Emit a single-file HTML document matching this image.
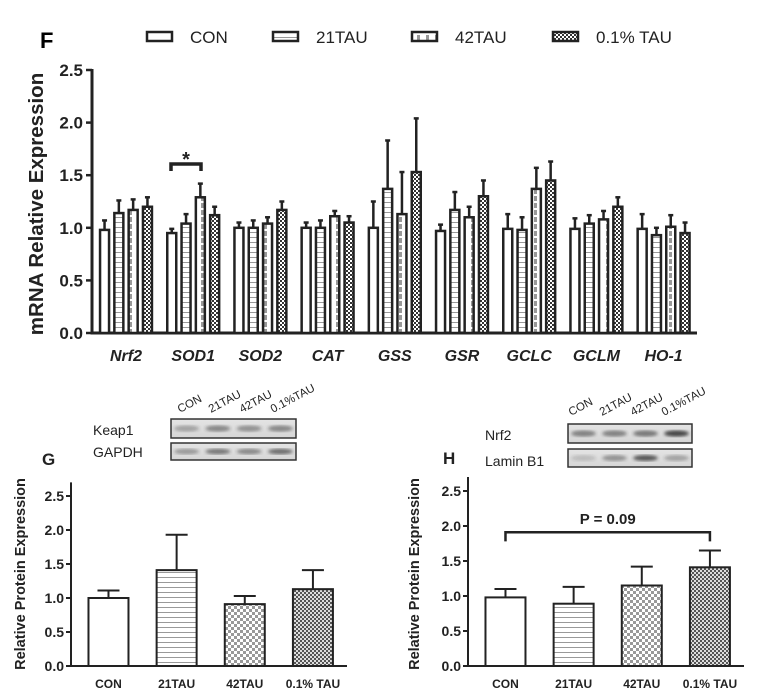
<!DOCTYPE html>
<html><head><meta charset="utf-8"><style>
html,body{margin:0;padding:0;background:#fff;}
svg{display:block;font-family:"Liberation Sans",Arial,sans-serif;}
</style></head><body>
<svg id="fig" width="782" height="693" viewBox="0 0 782 693" xmlns="http://www.w3.org/2000/svg">
<defs>
<pattern id="pH" width="6" height="5" patternUnits="userSpaceOnUse"><rect width="6" height="5" fill="#fff"/><line x1="0" y1="2.5" x2="6" y2="2.5" stroke="#999" stroke-width="1"/></pattern>
<pattern id="pV" width="9" height="7" patternUnits="userSpaceOnUse"><rect width="9" height="7" fill="#fff"/><rect x="3" y="0" width="3" height="5" fill="#999"/></pattern>
<pattern id="pC" width="4" height="4" patternUnits="userSpaceOnUse"><rect width="4" height="4" fill="#fff"/><rect width="2" height="2" fill="#333"/><rect x="2" y="2" width="2" height="2" fill="#333"/></pattern>
<pattern id="pC42" width="6" height="6" patternUnits="userSpaceOnUse"><rect width="6" height="6" fill="#fff"/><rect width="3" height="3" fill="#999"/><rect x="3" y="3" width="3" height="3" fill="#999"/></pattern>
<pattern id="pC01" width="4" height="4" patternUnits="userSpaceOnUse"><rect width="4" height="4" fill="#ddd"/><rect width="2" height="2" fill="#555"/><rect x="2" y="2" width="2" height="2" fill="#555"/></pattern>
<linearGradient id="blotBg" x1="0" x2="0" y1="0" y2="1"><stop offset="0" stop-color="#e4e4e4"/><stop offset="1" stop-color="#d6d6d6"/></linearGradient>
<filter id="blur"><feGaussianBlur stdDeviation="1.5"/></filter>
</defs>

<text x="40" y="48" font-size="22" font-weight="bold">F</text>
<g id="legend"></g>
<g id="chartF"></g>
<g id="blots"></g>
<g id="chartG"></g>
<g id="chartH"></g>
</svg>
<script>
const genes = ["Nrf2","SOD1","SOD2","CAT","GSS","GSR","GCLC","GCLM","HO-1"];
const seriesNames = ["CON","21TAU","42TAU","0.1% TAU"];
const conVals  = [0.98,0.95,1.00,1.00,1.00,0.97,0.99,0.99,0.99];
const conErr   = [1.07,0.99,1.05,1.05,1.25,1.03,1.13,1.09,1.13];
const t21Vals  = [1.14,1.04,1.00,1.00,1.37,1.17,0.98,1.04,0.93];
const t21Err   = [1.26,1.13,1.07,1.07,1.83,1.34,1.10,1.12,1.00];
const t42Vals  = [1.17,1.29,1.04,1.11,1.13,1.10,1.37,1.08,1.01];
const t42Err   = [1.27,1.42,1.10,1.16,1.53,1.20,1.57,1.16,1.12];
const t01Vals  = [1.20,1.12,1.17,1.05,1.53,1.30,1.45,1.20,0.95];
const t01Err   = [1.29,1.20,1.25,1.11,2.04,1.45,1.63,1.29,1.05];
const yTicksF  = [0,0.5,1.0,1.5,2.0,2.5];
const proteinCats = ["CON","21TAU","42TAU","0.1% TAU"];
const gVals = [1.00,1.41,0.91,1.13];
const gErr  = [1.11,1.93,1.03,1.41];
const hVals = [0.98,0.89,1.15,1.41];
const hErr  = [1.10,1.13,1.42,1.65];
const yTicksP = [0,0.5,1.0,1.5,2.0,2.5];

const NS="http://www.w3.org/2000/svg";
function mk(tag, attrs, parent){const e=document.createElementNS(NS,tag);for(const k in attrs)e.setAttribute(k,attrs[k]);parent.appendChild(e);return e;}
function fmt(v){return v.toFixed(1);}

// Legend
const leg=document.getElementById('legend');
const legFills=["#fff","url(#pH)","url(#pV)","url(#pC)"];
const legX=[147,273,412,553];
seriesNames.forEach((n,i)=>{
  const r=mk('rect',{x:legX[i],y:32,width:25,height:9,fill:legFills[i],stroke:"#222","stroke-width":2.5},leg);
  
  
  const t=mk('text',{x:legX[i]+43,y:43,"font-size":17,fill:"#222"},leg);
  t.textContent=n;
  
  
});

// Chart F
const F=document.getElementById('chartF');
const fx0=92, fy0=333, fyPer=105.2;
const yF=v=>fy0-v*fyPer;
const gx=i=>126+i*67.2;
mk('line',{x1:fx0,y1:yF(2.5)-1,x2:fx0,y2:fy0+1.5,stroke:"#222","stroke-width":3},F);
mk('line',{x1:fx0-1.5,y1:fy0,x2:697,y2:fy0,stroke:"#222","stroke-width":3},F);
yTicksF.forEach(v=>{
  mk('line',{x1:fx0-6,y1:yF(v),x2:fx0,y2:yF(v),stroke:"#222","stroke-width":2.5},F);
  const t=mk('text',{x:fx0-9,y:yF(v)+6,"font-size":17,"font-weight":"bold","text-anchor":"end",fill:"#222"},F);
  t.textContent=fmt(v);
  
  
});
const yt=mk('text',{x:0,y:0,"font-size":20.5,"font-weight":"bold","text-anchor":"middle",fill:"#222",transform:"translate(43,204) rotate(-90)"},F);
yt.textContent="mRNA Relative Expression";


const allVals=[conVals,t21Vals,t42Vals,t01Vals], allErr=[conErr,t21Err,t42Err,t01Err];
genes.forEach((g,i)=>{
  allVals.forEach((vals,j)=>{
    const cx=gx(i)+(j-1.5)*14.3;
    mk('line',{x1:cx,y1:yF(vals[i]),x2:cx,y2:yF(allErr[j][i]),stroke:"#222","stroke-width":2.5},F);
    mk('line',{x1:cx-2.5,y1:yF(allErr[j][i]),x2:cx+2.5,y2:yF(allErr[j][i]),stroke:"#222","stroke-width":2.5},F);
    const b=mk('rect',{x:cx-4.5,y:yF(vals[i]),width:9,height:fy0-yF(vals[i]),fill:legFills[j],stroke:"#222","stroke-width":2.5},F);
    
    
  });
  const t=mk('text',{x:gx(i),y:361,"font-size":16,"font-weight":"bold","font-style":"italic","text-anchor":"middle",fill:"#222"},F);
  t.textContent=g;
  
  
});
// significance bracket SOD1
mk('path',{d:"M171 171 V164 H201 V171",fill:"none",stroke:"#222","stroke-width":3.5},F);
const st=mk('text',{x:186,y:166,"font-size":20,"font-weight":"bold","text-anchor":"middle",fill:"#222"},F);
st.textContent="*";

// Blots
const B=document.getElementById('blots');
function blot(x,y,w,h,intens){
  mk('rect',{x:x,y:y,width:w,height:h,fill:"url(#blotBg)",stroke:"#333","stroke-width":1.5},B);
  intens.forEach((a,k)=>{
    const cx=x+w*(k+0.5)/4;
    mk('ellipse',{cx:cx,cy:y+h/2,rx:w/10,ry:h/6,fill:"#333","fill-opacity":a,filter:"url(#blur)"},B);
  });
}
function lbl(x,y,s,size){const t=mk('text',{x:x,y:y,"font-size":size,fill:"#222"},B);t.textContent=s;return t;}
blot(171,419,125,19,[0.35,0.5,0.45,0.5]);
blot(171,443,125,17,[0.4,0.6,0.5,0.65]);
lbl(93,435,"Keap1",14);lbl(93,457,"GAPDH",14);
blot(568,424,124,19,[0.55,0.55,0.6,0.9]);
blot(568,449,124,18,[0.2,0.45,0.8,0.35]);
lbl(485,440,"Nrf2",14);lbl(485,466,"Lamin B1",14);
const laneG=["CON","21TAU","42TAU","0.1%TAU"];
laneG.forEach((s,k)=>{
  const t=mk('text',{x:0,y:0,"font-size":11.5,fill:"#222",transform:`translate(${180+k*31},413) rotate(-28)`},B);t.textContent=s;
  const t2=mk('text',{x:0,y:0,"font-size":11.5,fill:"#222",transform:`translate(${571+k*31},416) rotate(-28)`},B);t2.textContent=s;
});

// Protein charts
function protein(gid,ax,ax1,y0,per,vals,errs,label,lx,ly,titleX){
  const G=document.getElementById(gid);
  const y=v=>y0-v*per;
  const fills=["#fff","url(#pH)","url(#pC42)","url(#pC01)"];
  const pl=mk('text',{x:lx,y:ly,"font-size":17,"font-weight":"bold",fill:"#222"},G);pl.textContent=label;
  mk('line',{x1:ax,y1:y(2.7),x2:ax,y2:y0+1,stroke:"#222","stroke-width":2},G);
  mk('line',{x1:ax-1,y1:y0,x2:ax1,y2:y0,stroke:"#222","stroke-width":2},G);
  yTicksP.forEach(v=>{
    mk('line',{x1:ax-5,y1:y(v),x2:ax,y2:y(v),stroke:"#222","stroke-width":2},G);
    const t=mk('text',{x:ax-7,y:y(v)+5,"font-size":14,"font-weight":"bold","text-anchor":"end",fill:"#222"},G);
    t.textContent=fmt(v);
    
    
  });
  const tt=mk('text',{x:0,y:0,"font-size":14.5,"font-weight":"bold","text-anchor":"middle",fill:"#222",transform:`translate(${titleX},${y0-92}) rotate(-90)`},G);
  tt.textContent="Relative Protein Expression";
  
  
  const step=(ax1-ax)/4.05;
  proteinCats.forEach((c,k)=>{
    const cx=ax+step*(k+0.55);
    mk('line',{x1:cx,y1:y(vals[k]),x2:cx,y2:y(errs[k]),stroke:"#222","stroke-width":2},G);
    mk('line',{x1:cx-11,y1:y(errs[k]),x2:cx+11,y2:y(errs[k]),stroke:"#222","stroke-width":2},G);
    const b=mk('rect',{x:cx-20,y:y(vals[k]),width:40,height:y0-y(vals[k]),fill:fills[k],stroke:"#222","stroke-width":2},G);
    
    
    const t=mk('text',{x:cx,y:y0+22,"font-size":12,"font-weight":"bold","text-anchor":"middle",fill:"#222"},G);
    t.textContent=c;
    
    
  });
  return {G,y,step};
}
protein('chartG',71,347,666,68,gVals,gErr,"G",42,465,25);
const H=protein('chartH',468,744,666,70,hVals,hErr,"H",443,464,419);
const hx0=468+H.step*0.55, hx3=468+H.step*3.55;
mk('path',{d:`M${hx0} ${H.y(1.78)} V${H.y(1.91)} H${hx3} V${H.y(1.78)}`,fill:"none",stroke:"#222","stroke-width":2.5},H.G);
const pt=mk('text',{x:(hx0+hx3)/2,y:H.y(2.03),"font-size":15,"font-weight":"bold","text-anchor":"middle",fill:"#222"},H.G);
pt.textContent="P = 0.09";


</script>
</body></html>
